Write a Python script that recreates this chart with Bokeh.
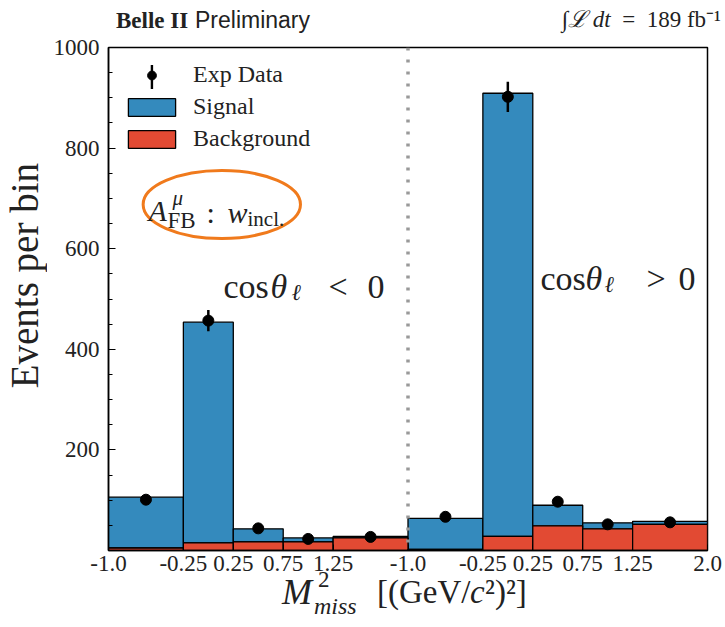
import numpy as np
from bokeh.plotting import figure
from bokeh.layouts import column, row
from bokeh.models import (Range1d, FixedTicker, Label, Span, Legend, LegendItem,
                          BoxAnnotation, CustomJSTickFormatter, Div)
from bokeh.embed import file_html
from bokeh.resources import INLINE

# ---------------- data ----------------
bin_edges = [-1.0, -0.25, 0.25, 0.75, 1.25, 2.0]          # M^2_miss bin edges, per half
tick_labels = ["-1.0", "-0.25", "0.25", "0.75", "1.25",
               "-1.0", "-0.25", "0.25", "0.75", "1.25", "2.0"]

# cos(theta_l) < 0
bkg_neg = [5, 15, 17, 17, 25]
sig_neg = [101, 439, 26, 8, 3]
data_neg = [101, 457, 44, 23, 27]
err_neg = [10, 21, 7, 5, 5]

# cos(theta_l) > 0
bkg_pos = [2, 28, 49, 43, 52]
sig_pos = [62, 881, 41, 12, 6]
data_pos = [67, 902, 97, 52, 56]
err_pos = [8, 30, 10, 7, 7]

# ---------------- derived arrays ----------------
shift = bin_edges[-1] - bin_edges[0]      # second half placed right of the first
lo = np.array(bin_edges[:-1]); hi = np.array(bin_edges[1:])
left = np.concatenate([lo, lo + shift])
right = np.concatenate([hi, hi + shift])
centers = (left + right) / 2
bkg = np.array(bkg_neg + bkg_pos, dtype=float)
sig = np.array(sig_neg + sig_pos, dtype=float)
dat = np.array(data_neg + data_pos, dtype=float)
err = np.array(err_neg + err_pos, dtype=float)
tick_pos = list(bin_edges) + [e + shift for e in bin_edges[1:]]

SERIF = "Liberation Serif"
SANS = "Liberation Sans"
BLUE = "#348ABD"
RED = "#E24A33"
ORANGE = "#F07A1C"
TXT = "#222222"

# page geometry (pixels)
W = 722
H_HEAD = 36           # header strip
H_XLAB = 46           # x-axis title strip
YW = 50               # y-axis title strip
FX0, FX1, FY0, FY1 = 107.0, 707.0, 47.0, 550.0
P_TOP = H_HEAD
P_H = 578 - P_TOP
XMIN, XMAX, YMIN, YMAX = -1.0, 5.0, 0.0, 1000.0


def px2x(px):
    return XMIN + (px - FX0) / (FX1 - FX0) * (XMAX - XMIN)


def py2y(py):
    return YMIN + (FY1 - py) / (FY1 - FY0) * (YMAX - YMIN)


p = figure(width=W - YW, height=P_H, x_range=Range1d(XMIN, XMAX), y_range=Range1d(YMIN, YMAX),
           output_backend="svg", toolbar_location=None, margin=0,
           min_border_left=int(FX0) - YW, min_border_right=W - int(FX1),
           min_border_top=int(FY0) - P_TOP, min_border_bottom=P_TOP + P_H - int(FY1))
p.xgrid.visible = False
p.ygrid.visible = False
p.outline_line_color = "black"
p.outline_line_width = 1.5
p.background_fill_color = "white"
p.border_fill_color = "white"

# axes
p.xaxis.ticker = FixedTicker(ticks=tick_pos)
p.xaxis.formatter = CustomJSTickFormatter(args=dict(labels=tick_labels), code="return labels[index];")
p.yaxis.ticker = FixedTicker(ticks=[200, 400, 600, 800, 1000],
                             minor_ticks=list(range(0, 1001, 50)))
for ax in (p.xaxis, p.yaxis):
    ax.axis_line_color = "black"
    ax.axis_line_width = 1.5
    ax.major_tick_line_color = "black"
    ax.minor_tick_line_color = "black"
    ax.major_tick_out = 0
    ax.minor_tick_out = 0
    ax.major_label_text_font = SERIF
    ax.major_label_text_font_size = "23px"
    ax.major_label_text_color = TXT
p.xaxis.major_tick_in = 6
p.xaxis.minor_tick_in = 0
p.yaxis.major_tick_in = 7
p.yaxis.minor_tick_in = 4
p.yaxis.major_label_standoff = 9
p.xaxis.major_label_standoff = 5

# stacked histograms
sig_r = p.quad(left=left, right=right, bottom=bkg, top=bkg + sig,
               fill_color=BLUE, line_color="black", line_width=1.3)
bkg_r = p.quad(left=left, right=right, bottom=0, top=bkg,
               fill_color=RED, line_color="black", line_width=1.3)

# data with error bars
p.segment(x0=centers, y0=dat - err, x1=centers, y1=dat + err, line_color="black", line_width=2.5)
pts = p.scatter(x=centers, y=dat, size=11, color="black")

# separator between the two cos(theta) halves
p.add_layout(Span(location=bin_edges[-1], dimension="height", line_color="#999999",
                  line_width=3.5, line_dash="3 9"))

# legend
legend = Legend(items=[LegendItem(label="Exp Data", renderers=[pts]),
                       LegendItem(label="Signal", renderers=[sig_r]),
                       LegendItem(label="Background", renderers=[bkg_r])],
                location="top_left", margin=4, padding=10, spacing=5,
                glyph_width=59, glyph_height=22, label_height=22, label_standoff=12,
                label_text_font=SERIF, label_text_font_size="24px", label_text_color=TXT,
                border_line_alpha=0, background_fill_alpha=0)
p.add_layout(legend)
# vertical error bar of the legend's data symbol
p.add_layout(BoxAnnotation(left=px2x(149.3), right=px2x(151.7), top=py2y(64.5), bottom=py2y(88.5),
                           fill_color="black", fill_alpha=1, line_color=None))

# ellipse annotation
p.ellipse(x=px2x(220.5), y=py2y(204), width=157.6 / 100, height=68 * (YMAX - YMIN) / (FY1 - FY0),
          fill_alpha=0, line_color=ORANGE, line_width=3)


def lab(text, px, py, size, style="normal", font=SERIF, align="left", baseline="alphabetic",
        angle=0, color=TXT):
    # position given in page pixels, converted to frame-relative screen units
    p.add_layout(Label(x=px - FX0, y=FY1 - py, x_units="screen", y_units="screen",
                       text=text, text_font=font,
                       text_font_size=f"{size}px", text_font_style=style, text_align=align,
                       text_baseline=baseline, angle=angle, text_color=color))


# A^mu_FB : w_incl.
lab("A", 147, 210, 30, "italic")
lab("μ", 171, 197, 21, "italic")
lab("FB", 166, 220, 23)
lab(":", 205, 212, 30)
lab("w", 226, 212, 30, "italic")
lab("incl.", 246, 218, 21)

# cos theta labels: (start x, baseline, operator, offsets of theta, ell, operator, zero)
for (x0, yb, op, offs) in [(222, 286, "<", (47, 68, 105, 144)), (539, 278, ">", (45, 64, 106, 138))]:
    lab("cos", x0, yb, 34)
    lab("θ", x0 + offs[0], yb, 34, "italic")
    lab("ℓ", x0 + offs[1], yb + 6, 23, "italic")
    lab(op, x0 + offs[2], yb, 34)
    lab("0", x0 + offs[3], yb, 34)


# ---------------- texts outside the frame (HTML strips) ----------------
ASC = {SERIF: 0.8375, SANS: 0.8465}   # baseline offset inside a line box of height = font size


def span(text, x, base, size, family=SERIF, style="normal", weight="normal", align="left"):
    top = base - ASC[family] * size
    pos = f"left:{x}px;" if align == "left" else f"right:{W - x}px;"
    return (f'<span style="position:absolute;{pos}top:{top:.1f}px;font-family:\'{family}\';'
            f'font-size:{size}px;line-height:{size}px;font-style:{style};font-weight:{weight};'
            f'color:{TXT};white-space:nowrap;">{text}</span>')


def strip(spans, w, h):
    return (f'<div style="position:relative;width:{w}px;height:{h}px;overflow:visible;">'
            + "".join(spans) + "</div>")


head = Div(text=strip([
    span("Belle II", 116, 28, 23, SERIF, weight="bold"),
    span("Preliminary", 195, 28, 23, SANS),
    span("∫<i>ℒ</i>&nbsp;<i>dt</i>&ensp;=&ensp;189&nbsp;fb⁻¹", 721, 27, 23, align="right"),
], W, H_HEAD), width=W, height=H_HEAD, margin=0)

# vertical y-axis title: a vertical writing-mode box, so its layout box is the drawn box
YBOX = 300
ylab_html = (f'<div style="position:relative;width:{YW}px;height:{P_H}px;">'
             f'<div style="position:absolute;left:3px;top:{276 - P_TOP - YBOX // 2}px;width:44px;'
             f'height:{YBOX}px;display:flex;align-items:center;justify-content:center;">'
             f'<span style="writing-mode:vertical-rl;transform:rotate(180deg);font-family:\'{SERIF}\';'
             f'font-size:39px;line-height:44px;color:{TXT};white-space:nowrap;">Events per bin</span>'
             f'</div></div>')
ylab = Div(text=ylab_html, width=YW, height=P_H, margin=0)

Y0 = P_TOP + P_H      # page y where the x-title strip begins
xlab = Div(text=strip([
    span("M", 282, 604 - Y0, 36, style="italic"),
    span("2", 318, 587 - Y0, 23),
    span("miss", 314, 614 - Y0, 24, style="italic"),
    span("[(GeV/", 377, 604 - Y0, 33),
    span("c", 470, 604 - Y0, 33, style="italic"),
    span("²)²]", 485, 604 - Y0, 33),
], W, H_XLAB), width=W, height=H_XLAB, margin=0)

layout = column(head, row(ylab, p, spacing=0, margin=0), xlab, spacing=0, margin=0)
open("out.html", "w").write(file_html(layout, INLINE))
